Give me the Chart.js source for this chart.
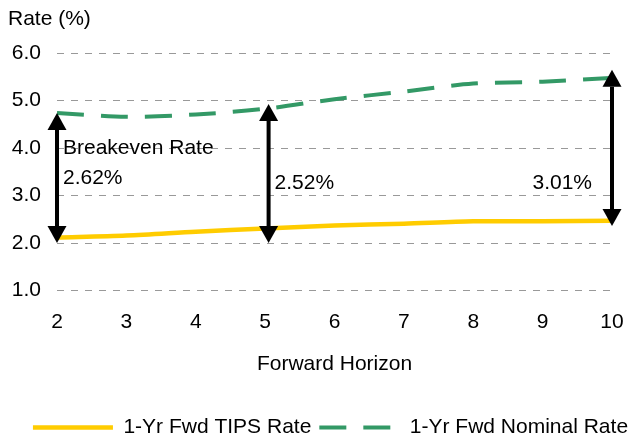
<!DOCTYPE html>
<html lang="en">

<head>
  <meta charset="UTF-8" />
  <title>Breakeven Rate</title>
  <style>
    html, body {
      margin: 0;
      padding: 0;
      background: #fff;
    }

    /* lienzo fijo del tamaño de la captura */
    #wrap {
      width: 631px;
      height: 437px;
    }
  </style>
</head>

<body>
  <div id="wrap">
    <canvas id="rateChart"></canvas>
  </div>

  <script src="https://cdn.jsdelivr.net/npm/chart.js"></script>
  <script>
    // Horizontes (años) y series
    const horizons = [2, 3, 4, 5, 6, 7, 8, 9, 10];
    const tipsRate = [2.12, 2.16, 2.24, 2.31, 2.37, 2.41, 2.46, 2.46, 2.47];
    const nominalRate = [4.74, 4.66, 4.71, 4.83, 5.03, 5.19, 5.36, 5.40, 5.48];

    // Flechas de breakeven (dibujadas a mano en el original)
    const arrowAt = [2, 5.05, 10];
    const arrowTop = [4.74, 4.93, 5.65];
    const arrowBottom = [2.0, 2.0, 2.36];
    const breakevenLabels = ['2.62%', '2.52%', '3.01%'];

    const yTicks = [1, 2, 3, 4, 5, 6];

    const FONT = "'Liberation Sans', Arial, sans-serif";

    // Plugin para las flechas y textos
    const arrowsPlugin = {
      id: 'arrows',
      afterLayout(chart) {
        // la leyenda del original va un poco a la derecha y más abajo
        const lg = chart.legend;
        lg.left += 11;
        lg.right += 11;
        lg.top += 11;
        lg.bottom += 11;
      },
      afterDatasetsDraw(chart) {
        const { ctx, scales: { x, y } } = chart;
        ctx.save();
        ctx.fillStyle = '#000';
        ctx.strokeStyle = '#000';
        ctx.lineWidth = 4;
        arrowAt.forEach((v, i) => {
          const px = x.getPixelForValue(v);
          const top = y.getPixelForValue(arrowTop[i]);
          const bot = y.getPixelForValue(arrowBottom[i]);
          const hw = 9.5, hh = 17;
          ctx.beginPath();
          ctx.moveTo(px, top + hh);
          ctx.lineTo(px, bot - hh);
          ctx.stroke();
          ctx.beginPath();
          ctx.moveTo(px, top);
          ctx.lineTo(px - hw, top + hh);
          ctx.lineTo(px + hw, top + hh);
          ctx.closePath();
          ctx.fill();
          ctx.beginPath();
          ctx.moveTo(px, bot);
          ctx.lineTo(px - hw, bot - hh);
          ctx.lineTo(px + hw, bot - hh);
          ctx.closePath();
          ctx.fill();
        });

        ctx.font = '21px ' + FONT;
        ctx.textBaseline = 'alphabetic';
        ctx.textAlign = 'left';
        const x0 = x.getPixelForValue(arrowAt[0]);
        ctx.fillText('Breakeven Rate', x0 + 6, y.getPixelForValue(3.88));
        ctx.fillText(breakevenLabels[0], x0 + 6, y.getPixelForValue(3.25));
        ctx.fillText(breakevenLabels[1], x.getPixelForValue(arrowAt[1]) + 6, y.getPixelForValue(3.14));
        ctx.textAlign = 'right';
        ctx.fillText(breakevenLabels[2], x.getPixelForValue(arrowAt[2]) - 20, y.getPixelForValue(3.14));
        ctx.restore();
      }
    };

    const ctx = document.getElementById('rateChart').getContext('2d');

    new Chart(ctx, {
      type: 'line',
      data: {
        datasets: [{
          label: '1-Yr Fwd TIPS Rate',
          data: horizons.map((h, i) => ({ x: h, y: tipsRate[i] })),
          borderColor: '#FFCC00',
          backgroundColor: '#FFCC00',
          borderWidth: 4.5,
          pointRadius: 0,
          tension: 0.3
        }, {
          label: '1-Yr Fwd Nominal Rate',
          data: horizons.map((h, i) => ({ x: h, y: nominalRate[i] })),
          borderColor: '#339966',
          backgroundColor: '#339966',
          borderWidth: 4,
          borderDash: [27, 17],
          pointRadius: 0,
          tension: 0.3
        }]
      },
      options: {
        responsive: true,
        maintainAspectRatio: false,
        animation: false,
        layout: {
          padding: { left: 8, right: 0, top: 0, bottom: 0 }
        },
        scales: {
          x: {
            type: 'linear',
            min: 2,
            max: 10,
            afterBuildTicks: s => { s.ticks = horizons.map(v => ({ value: v })); },
            afterFit: s => { s.paddingLeft = 0; s.paddingRight = 19; },
            ticks: {
              color: '#000',
              font: { family: FONT, size: 21 },
              padding: 19,
              maxRotation: 0
            },
            grid: { display: false, drawTicks: false },
            border: { display: false },
            title: {
              display: true,
              text: 'Forward Horizon',
              color: '#000',
              font: { family: FONT, size: 21 },
              padding: { top: -2, bottom: 21 }
            }
          },
          y: {
            min: 1,
            max: 6,
            afterBuildTicks: s => { s.ticks = yTicks.map(v => ({ value: v })); },
            afterFit: s => { s.width = 49; },
            ticks: {
              color: '#000',
              font: { family: FONT, size: 21 },
              padding: 16,
              callback: v => v.toFixed(1)
            },
            grid: { color: '#999', lineWidth: 1, drawTicks: false },
            border: { display: false, dash: [7, 7] }
          }
        },
        plugins: {
          title: {
            display: true,
            text: 'Rate (%)',
            align: 'start',
            color: '#000',
            font: { family: FONT, size: 21, weight: 'normal' },
            padding: { top: 7, bottom: 21 }
          },
          legend: {
            position: 'bottom',
            labels: {
              usePointStyle: true,
              pointStyle: 'line',
              pointStyleWidth: 80,
              color: '#000',
              font: { family: FONT, size: 21 },
              padding: 8,
              // con usePointStyle se pierde el guion del dataset
              generateLabels: chart => {
                const items = Chart.defaults.plugins.legend.labels.generateLabels(chart);
                items.forEach(it => {
                  it.lineDash = chart.data.datasets[it.datasetIndex].borderDash || [];
                });
                return items;
              }
            }
          },
          tooltip: { enabled: false }
        }
      },
      plugins: [arrowsPlugin]
    });
  </script>
</body>

</html>
